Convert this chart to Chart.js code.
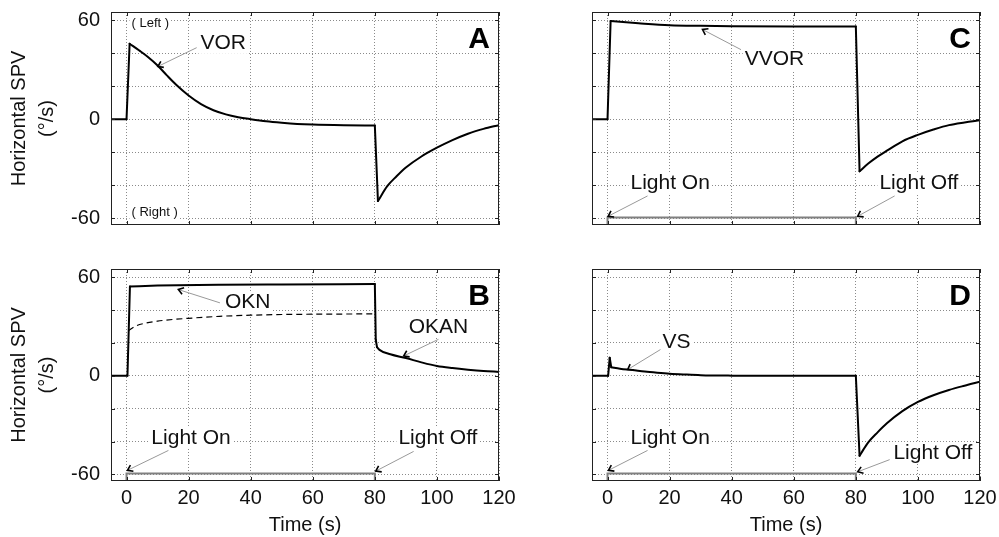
<!DOCTYPE html>
<html>
<head>
<meta charset="utf-8">
<script src="https://cdn.jsdelivr.net/npm/chart.js@4/dist/chart.umd.min.js"></script>
<style>
html, body { margin: 0; padding: 0; background: #fff; }
#wrap { position: relative; width: 999px; height: 537px; overflow: hidden; }
canvas { position: absolute; }
</style>
</head>
<body>
<div id="wrap">
  <canvas id="cA" width="505" height="240" style="left:0;top:0"></canvas>
  <canvas id="cC" width="499" height="240" style="left:500px;top:0"></canvas>
  <canvas id="cB" width="540" height="287" style="left:0;top:250px"></canvas>
  <canvas id="cD" width="499" height="287" style="left:500px;top:250px"></canvas>
</div>
<script>
const FONT = "'Liberation Sans', Arial, Helvetica, sans-serif";

// --- data (time in s, slow phase velocity in deg/s) ---
const vorTime = [-5, 0, 1, 4, 7, 10, 13, 16, 20, 24, 28, 32, 36, 40, 45, 50, 55, 60, 70, 80,
                 81, 84, 87, 90, 95, 100, 105, 110, 115, 120];
const vorSpv  = [0, 0, 45.8, 41.8, 37.6, 32.6, 26.6, 20.9, 14.4, 9.2, 5.5, 3.0, 1.3, 0.1, -1.2, -2.1, -2.8, -3.2, -3.6, -3.8,
                 -49.5, -40.5, -34.5, -29.2, -22.5, -17.2, -12.6, -8.7, -5.8, -3.5];

const okTime = [-5, 0.3, 1.1, 10, 30, 50, 80, 80.3, 80.7, 81.5, 85, 90, 95, 100, 105, 110, 115, 120];
const okSpv  = [0, 0, 54.4, 54.9, 55.4, 55.6, 55.8, 22, 17.5, 15.8, 13.1, 10.8, 8.2, 6.0, 4.7, 3.7, 2.9, 2.4];

const dashTime = [0.6, 3, 6, 10, 15, 20, 30, 40, 50, 60, 70, 80];
const dashSpv  = [27.5, 30.3, 32, 33.3, 34.3, 35, 36.2, 36.9, 37.3, 37.5, 37.6, 37.7];

const vvorTime = [-5, 0, 1, 10, 20, 30, 40, 60, 80, 81.2, 84, 87, 90, 95, 100, 105, 110, 115, 120];
const vvorSpv  = [0, 0, 59.5, 58.2, 57, 56.6, 56.4, 56.2, 56.2, -31.5, -26.8, -22.6, -19, -13.3, -9.4, -6.2, -3.5, -1.9, -0.6];

const vsTime = [-5, 0.2, 0.7, 1.2, 4, 8, 12, 16, 20, 25, 30, 40, 50, 80,
                81.2, 84, 87, 90, 95, 100, 105, 110, 115, 120];
const vsSpv  = [0, 0, 11, 5.2, 4.3, 3.5, 2.6, 1.9, 1.3, 0.8, 0.4, 0.1, 0, 0,
                -48.6, -40.5, -34.4, -28.9, -21.5, -15.9, -11.8, -8.6, -6.0, -3.6];

// light stimulus marker (step, off level sits below the axis)
const lightTime  = [-5, 0, 0, 80, 80, 120];
const lightLevel = [-70, -70, -59.5, -59.5, -70, -70];

const yLabels = [-60, 0, 60];

const pts = (t, v) => t.map((x, i) => ({ x, y: v[i] }));

// split a trace into smooth runs and straight jumps, so step edges stay sharp
function trace(t, v, style) {
  const sets = [];
  const push = (idx, smooth) => sets.push(Object.assign({
    data: idx.map(i => ({ x: t[i], y: v[i] })),
    borderColor: '#000', borderWidth: 2, borderCapStyle: 'round', borderJoinStyle: 'round',
    cubicInterpolationMode: smooth ? 'monotone' : 'default'
  }, style || {}));
  let run = [0];
  for (let i = 1; i < t.length; i++) {
    const steep = Math.abs((v[i] - v[i - 1]) / (t[i] - t[i - 1])) > 8;
    if (steep) {
      if (run.length > 1) push(run, true);
      push([i - 1, i], false);
      run = [i];
    } else {
      run.push(i);
    }
  }
  if (run.length > 1) push(run, true);
  return sets;
}
const light = () => ({ data: pts(lightTime, lightLevel), borderColor: '#808080', borderWidth: 2 });

// frame, inward ticks, arrows + notes, panel letter
const decor = {
  id: 'decor',
  afterDatasetsDraw(chart, args, o) {
    const { ctx, chartArea: a, scales: { x, y } } = chart;
    ctx.save();
    ctx.strokeStyle = '#222';
    ctx.lineWidth = 1;
    ctx.strokeRect(a.left + 0.5, a.top + 0.5, a.right - a.left - 1, a.bottom - a.top - 1);
    ctx.beginPath();
    x.ticks.forEach(t => {
      const px = Math.round(x.getPixelForValue(t.value)) + 0.5;
      ctx.moveTo(px, a.top); ctx.lineTo(px, a.top + 4);
      ctx.moveTo(px, a.bottom); ctx.lineTo(px, a.bottom - 4);
    });
    y.ticks.forEach(t => {
      const py = Math.round(y.getPixelForValue(t.value)) + 0.5;
      ctx.moveTo(a.left, py); ctx.lineTo(a.left + 4, py);
      ctx.moveTo(a.right, py); ctx.lineTo(a.right - 4, py);
    });
    ctx.stroke();

    o.notes.forEach(n => {
      if (n.from) {
        const x1 = x.getPixelForValue(n.from[0]), y1 = y.getPixelForValue(n.from[1]);
        const x2 = x.getPixelForValue(n.to[0]), y2 = y.getPixelForValue(n.to[1]);
        ctx.strokeStyle = '#999';
        ctx.lineWidth = 1;
        ctx.beginPath(); ctx.moveTo(x1, y1); ctx.lineTo(x2, y2); ctx.stroke();
        const ang = Math.atan2(y1 - y2, x1 - x2);
        ctx.strokeStyle = '#000';
        ctx.lineWidth = 1.6;
        ctx.beginPath();
        ctx.moveTo(x2 + 6 * Math.cos(ang + 0.6), y2 + 6 * Math.sin(ang + 0.6));
        ctx.lineTo(x2, y2);
        ctx.lineTo(x2 + 6 * Math.cos(ang - 0.6), y2 + 6 * Math.sin(ang - 0.6));
        ctx.stroke();
      }
      const size = n.size || 21;
      ctx.font = `${size}px ${FONT}`;
      const tx = x.getPixelForValue(n.at[0]), ty = y.getPixelForValue(n.at[1]);
      const w = ctx.measureText(n.text).width;
      ctx.fillStyle = '#fff';
      ctx.fillRect(tx - 2, ty - size * 0.5, w + 4, size);
      ctx.fillStyle = '#111';
      ctx.textAlign = 'left';
      ctx.textBaseline = 'middle';
      ctx.fillText(n.text, tx, ty);
    });

    ctx.font = `bold 30px ${FONT}`;
    ctx.textAlign = 'right';
    ctx.textBaseline = 'middle';
    ctx.fillStyle = '#000';
    ctx.fillText(o.letter, a.right - 9, a.top + 28);
    ctx.restore();
  }
};

function panel(id, cfg) {
  const font = { family: FONT, size: 20 };
  new Chart(document.getElementById(id), {
    type: 'line',
    data: { datasets: cfg.datasets },
    options: {
      responsive: false,
      animation: false,
      devicePixelRatio: 1,
      layout: { padding: cfg.padding, autoPadding: false },
      elements: { point: { radius: 0 }, line: { tension: 0 } },
      plugins: {
        legend: { display: false },
        tooltip: { enabled: false },
        decor: { notes: cfg.notes, letter: cfg.letter }
      },
      scales: {
        x: {
          type: 'linear', min: -5, max: 120,
          afterFit: s => { s.height = cfg.xHeight; s.paddingLeft = 0; s.paddingRight = 0; },
          ticks: { display: cfg.bottom, stepSize: 20, includeBounds: false, padding: 5,
                   font, color: '#111', maxRotation: 0, autoSkip: false },
          grid: { color: '#8a8a8a', drawTicks: false },
          border: { display: false, dash: [1, 2] },
          title: { display: cfg.bottom, text: 'Time (s)', font, color: '#111', padding: { top: 0, bottom: 0 } }
        },
        y: {
          min: -64, max: 65,
          afterFit: s => { s.width = cfg.yWidth; s.paddingTop = 0; s.paddingBottom = 0; },
          ticks: { stepSize: 20, includeBounds: false, padding: 11, font, color: '#111',
                   callback: v => (cfg.left && yLabels.includes(v)) ? String(v) : '' },
          grid: { color: '#8a8a8a', drawTicks: false },
          border: { display: false, dash: [1, 2] },
          title: { display: cfg.left, text: ['Horizontal SPV', '(\u00b0/s)'],
                   font: { family: FONT, size: 20, lineHeight: 1.375 }, color: '#111',
                   padding: { top: 6, bottom: 0 } }
        }
      }
    },
    plugins: [decor]
  });
}

panel('cA', {
  letter: 'A', left: true, bottom: false, yWidth: 111, xHeight: 0,
  padding: { top: 12, right: 6, bottom: 15, left: 0 },
  datasets: trace(vorTime, vorSpv),
  notes: [
    { text: '( Left )', at: [1.6, 58], size: 13 },
    { text: '( Right )', at: [1.6, -56.4], size: 13 },
    { text: 'VOR', at: [23.8, 46], from: [22.6, 43.4], to: [10.1, 32] }
  ]
});

panel('cC', {
  letter: 'C', left: false, bottom: false, yWidth: 92, xHeight: 0,
  padding: { top: 12, right: 19, bottom: 15, left: 0 },
  datasets: [...trace(vvorTime, vvorSpv), light()],
  notes: [
    { text: 'VVOR', at: [44.2, 36.2], from: [43, 42.2], to: [30.6, 54.4] },
    { text: 'Light On', at: [7.4, -38.6], from: [12.9, -46.4], to: [0.2, -58.7] },
    { text: 'Light Off', at: [87.6, -38.6], from: [92.5, -46.4], to: [80.6, -58.7] }
  ]
});

panel('cB', {
  letter: 'B', left: true, bottom: true, yWidth: 111, xHeight: 56,
  padding: { top: 19, right: 41, bottom: 0, left: 0 },
  datasets: [
    ...trace(okTime, okSpv),
    ...trace(dashTime, dashSpv, { borderWidth: 1.2, borderDash: [6, 4], borderCapStyle: 'butt' }),
    light()
  ],
  notes: [
    { text: 'OKN', at: [31.7, 44.6], from: [30.1, 44.4], to: [16.7, 52.5] },
    { text: 'OKAN', at: [90.9, 29.5], from: [100.5, 22.2], to: [89.3, 12.1] },
    { text: 'Light On', at: [8, -37.7], from: [13.5, -45.4], to: [0.3, -57.5] },
    { text: 'Light Off', at: [87.6, -37.7], from: [92.5, -46], to: [80.3, -58] }
  ]
});

panel('cD', {
  letter: 'D', left: false, bottom: true, yWidth: 92, xHeight: 56,
  padding: { top: 19, right: 19, bottom: 0, left: 0 },
  datasets: [...trace(vsTime, vsSpv), light()],
  notes: [
    { text: 'VS', at: [17.7, 20.2], from: [17.5, 16.5], to: [6.5, 3.8] },
    { text: 'Light On', at: [7.4, -37.7], from: [12.9, -45.4], to: [0.3, -57.5] },
    { text: 'Light Off', at: [92.1, -47.2], from: [90.9, -51], to: [80.6, -58.4] }
  ]
});
</script>
</body>
</html>
